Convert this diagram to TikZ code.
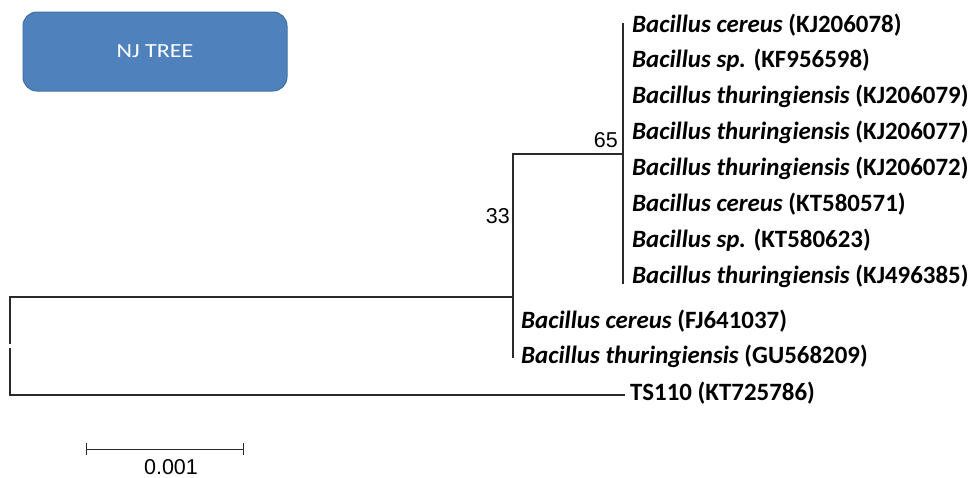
\documentclass[tikz,border=0pt]{standalone}
\usepackage{fontspec}
\setmainfont{Carlito}
\newfontfamily\arialf{Liberation Sans}
\definecolor{njblue}{HTML}{4F81BD}
\definecolor{njborder}{HTML}{41709F}
\definecolor{treeline}{HTML}{2A2A2A}
\begin{document}
\begin{tikzpicture}[x=1pt,y=-1pt,
  br/.style={line width=1.1pt, draw=treeline, line cap=rect},
  leaf/.style={anchor=base west, inner sep=0pt, font=\fontsize{24.9}{28}\selectfont\bfseries},
  boot/.style={anchor=base east, inner sep=0pt, font=\arialf\fontsize{21.5}{23}\selectfont},
  njbox/.style={draw=njborder, line width=1pt, fill=njblue, rounded corners=14pt,
    minimum width=264pt, minimum height=79pt, inner sep=0pt, text=white,
    font=\fontsize{20}{22}\selectfont}]
\useasboundingbox (0,0) rectangle (972,477);

% title box
\node[njbox] (nj) at (155,51.5) {\scalebox{1.2}[1]{NJ TREE}};

% tree coordinates
\coordinate (rtop) at (10,297);
\coordinate (rgapa) at (10,343);
\coordinate (rgapb) at (10,349);
\coordinate (rbot) at (10,395);
\coordinate (n33) at (513,297);
\coordinate (n33top) at (513,154);
\coordinate (n33bot) at (513,357);
\coordinate (n65) at (623,154);
\coordinate (n65top) at (623,24);
\coordinate (n65bot) at (623,283);
\coordinate (tsend) at (624,395);

% branches
\draw[br] (rtop) -- (rgapa);
\draw[br] (rgapb) -- (rbot);
\draw[br] (rtop) -- (n33);
\draw[br] (rbot) -- (tsend);
\draw[br] (n33top) -- (n33bot);
\draw[br] (n33top) -- (n65);
\draw[br] (n65top) -- (n65bot);

% bootstrap values
\node[boot] (b65) at (618,147) {65};
\node[boot] (b33) at (510,223) {33};

% leaf labels
\node[leaf] (l1) at (632,32) {\textit{Bacillus cereus} (KJ206078)};
\node[leaf] (l2) at (632,67.9) {\textit{Bacillus sp.} (KF956598)};
\node[leaf] (l3) at (632,103.8) {\textit{Bacillus thuringiensis} (KJ206079)};
\node[leaf] (l4) at (632,139.7) {\textit{Bacillus thuringiensis} (KJ206077)};
\node[leaf] (l5) at (632,175.6) {\textit{Bacillus thuringiensis} (KJ206072)};
\node[leaf] (l6) at (632,211.5) {\textit{Bacillus cereus} (KT580571)};
\node[leaf] (l7) at (632,247.4) {\textit{Bacillus sp.} (KT580623)};
\node[leaf] (l8) at (632,283.3) {\textit{Bacillus thuringiensis} (KJ496385)};
\node[leaf] (l9) at (521,328) {\textit{Bacillus cereus} (FJ641037)};
\node[leaf] (l10) at (521,363) {\textit{Bacillus thuringiensis} (GU568209)};
\node[leaf] (l11) at (630,400) {TS110 (KT725786)};

% scale bar
\coordinate (sba) at (86,449);
\coordinate (sbb) at (243,449);
\draw[br, line width=1pt] (sba) -- (sbb);
\draw[br, line width=1pt] ([yshift=-5.5pt]sba) -- ([yshift=5.5pt]sba);
\draw[br, line width=1pt] ([yshift=-5.5pt]sbb) -- ([yshift=5.5pt]sbb);
\node[anchor=base, inner sep=0pt, font=\arialf\fontsize{21.5}{23}\selectfont] (sbl) at (171,474) {0.001};
\end{tikzpicture}
\end{document}
